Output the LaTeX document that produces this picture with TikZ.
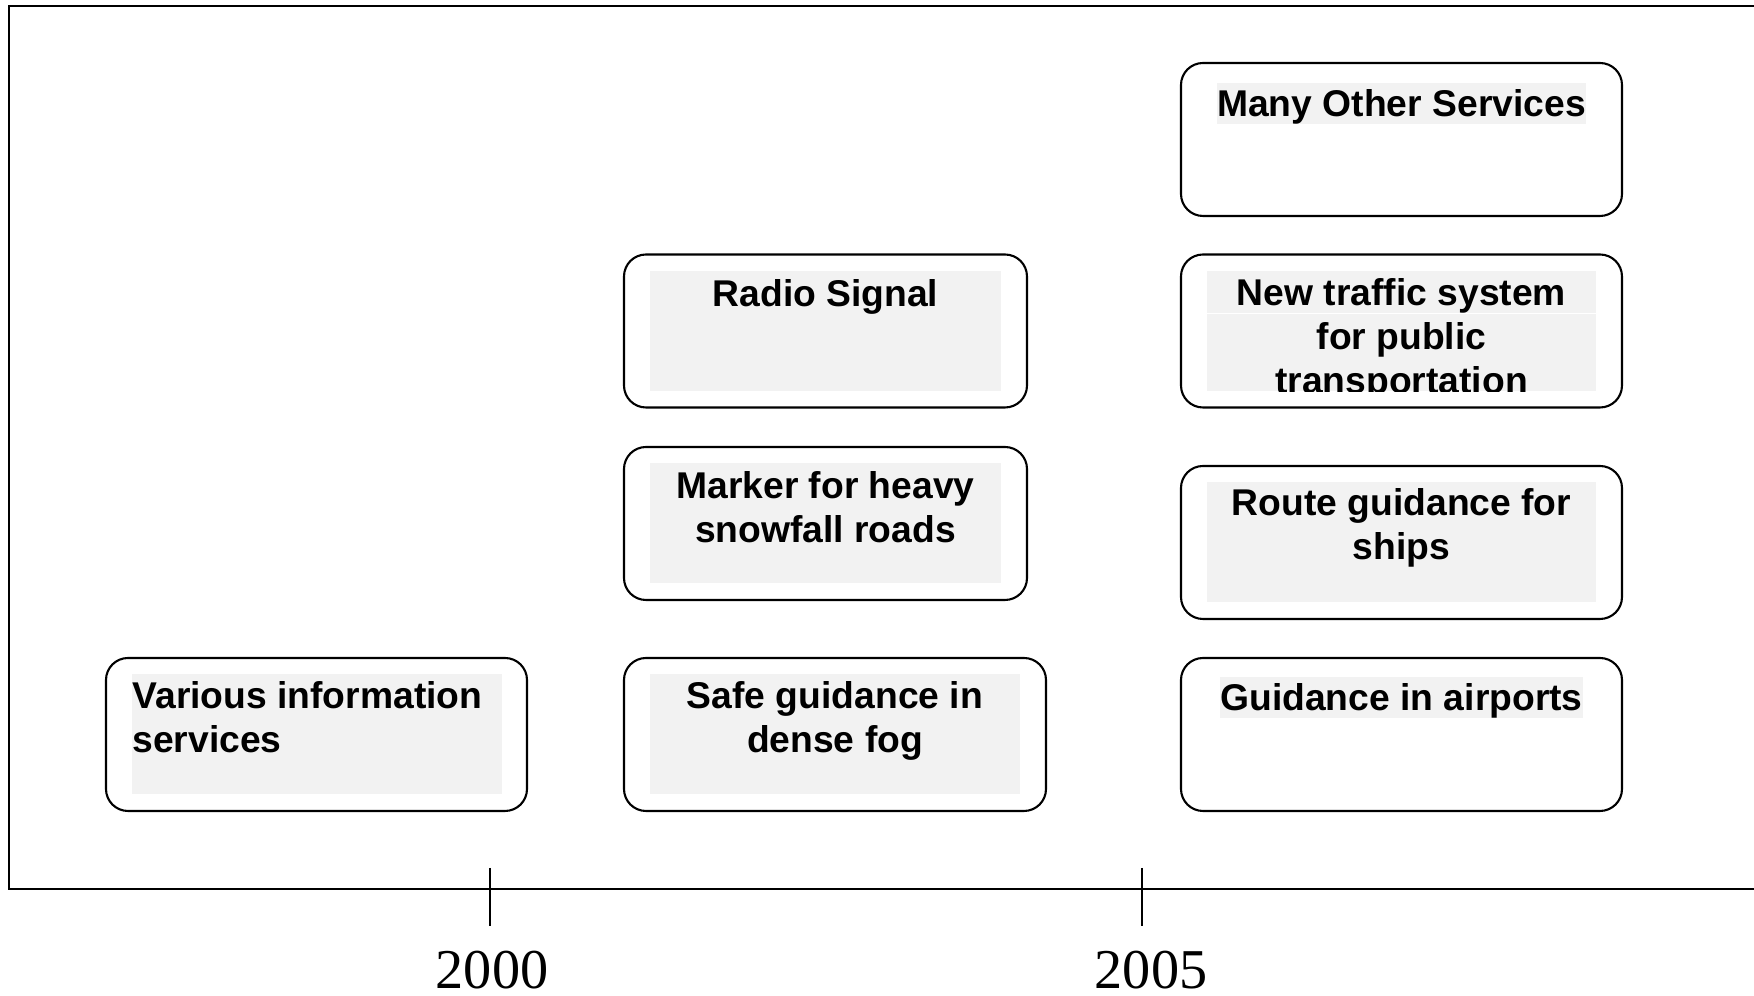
\documentclass[tikz,border=0pt]{standalone}
\usepackage{fontspec}
\setmainfont{Liberation Serif}
\setsansfont{Liberation Sans}
\usetikzlibrary{positioning}
\tikzset{
  card/.style   ={draw, rounded corners=2.2mm, line width=0.6pt,
                  inner sep=0pt, minimum height=15.3mm},
  greybox/.style={fill=black!5, inner sep=0pt, minimum height=12mm},
  txt/.style    ={font=\sffamily\bfseries\fontsize{10.6}{12.5}\selectfont,
                  inner sep=0pt, align=center},
  hl/.style     ={txt, fill=black!5, text height=3.35mm, text depth=0.8mm},
  frameln/.style={line width=0.55pt},
  yrtick/.style ={line width=0.4pt},
  year/.style   ={font=\fontsize{16}{16}\selectfont, inner sep=0pt,
                  anchor=base},
}
\begin{document}
\begin{tikzpicture}
  \useasboundingbox (0,0) rectangle (17.54,9.96);
  % ---- frame and time axis
  \coordinate (tl) at (0.09,9.90);
  \coordinate (tr) at (17.54,9.90);
  \coordinate (bl) at (0.09,1.07);
  \coordinate (br) at (17.54,1.07);
  \draw[frameln] (tr) -- (tl) -- (bl) -- (br);
  \coordinate (t00) at (4.90,1.28);
  \coordinate (t05) at (11.42,1.28);
  \draw[yrtick] (t00) -- ++(0,-0.58);
  \draw[yrtick] (t05) -- ++(0,-0.58);
  \node[year] (y00) at (4.92,0.07) {2000};
  \node[year] (y05) at (11.51,0.07) {2005};
  % ---- 2000: left column
  \node[card, minimum width=42.1mm] (vis) at (3.165,2.615) {};
  \node[greybox, minimum width=37.0mm] (visg) at (vis) {};
  \node[txt, align=left, below right=0.7mm and 0.1mm of visg.north west]
    (vist) {Various information\\services};
  % ---- middle column
  \node[card, minimum width=42.2mm] (fog) at (8.35,2.615) {};
  \node[greybox, minimum width=37.0mm] (fogg) at (fog) {};
  \node[txt, below=0.7mm of fogg.north] (fogt) {Safe guidance in\\dense fog};
  \node[card, minimum width=40.3mm] (snw) at (8.255,4.725) {};
  \node[greybox, minimum width=35.1mm] (snwg) at (snw) {};
  \node[txt, below=0.8mm of snwg.north] (snwt)
    {Marker for heavy\\snowfall roads};
  \node[card, minimum width=40.3mm] (rad) at (8.255,6.65) {};
  \node[greybox, minimum width=35.1mm] (radg) at (rad) {};
  \node[txt, below=0.9mm of radg.north] (radt) {Radio Signal};
  % ---- 2005: right column
  \node[card, minimum width=44.1mm] (apt) at (14.015,2.615) {};
  \node[hl, below=1.9mm of apt.north] (aptt) {Guidance in airports};
  \node[card, minimum width=44.1mm] (shp) at (14.015,4.535) {};
  \node[greybox, minimum width=38.9mm] (shpg) at (shp) {};
  \node[txt, below=0.6mm of shpg.north] (shpt) {Route guidance for\\ships};
  \node[card, minimum width=44.1mm] (pub) at (14.015,6.65) {};
  \node[greybox, minimum width=38.9mm] (pubg) at (pub) {};
  \begin{scope}
    \clip (pubg.south west) rectangle (pubg.north east);
    \node[txt, below=0.8mm of pubg.north] (pubt)
      {New traffic system\\for public\\transportation};
  \end{scope}
  \draw[white, line width=0.3pt] ([yshift=-4.35mm]pubg.north west)
    -- ([yshift=-4.35mm]pubg.north east);
  \node[card, minimum width=44.1mm] (oth) at (14.015,8.565) {};
  \node[hl, below=2.0mm of oth.north] (otht) {Many Other Services};
\end{tikzpicture}
\end{document}
